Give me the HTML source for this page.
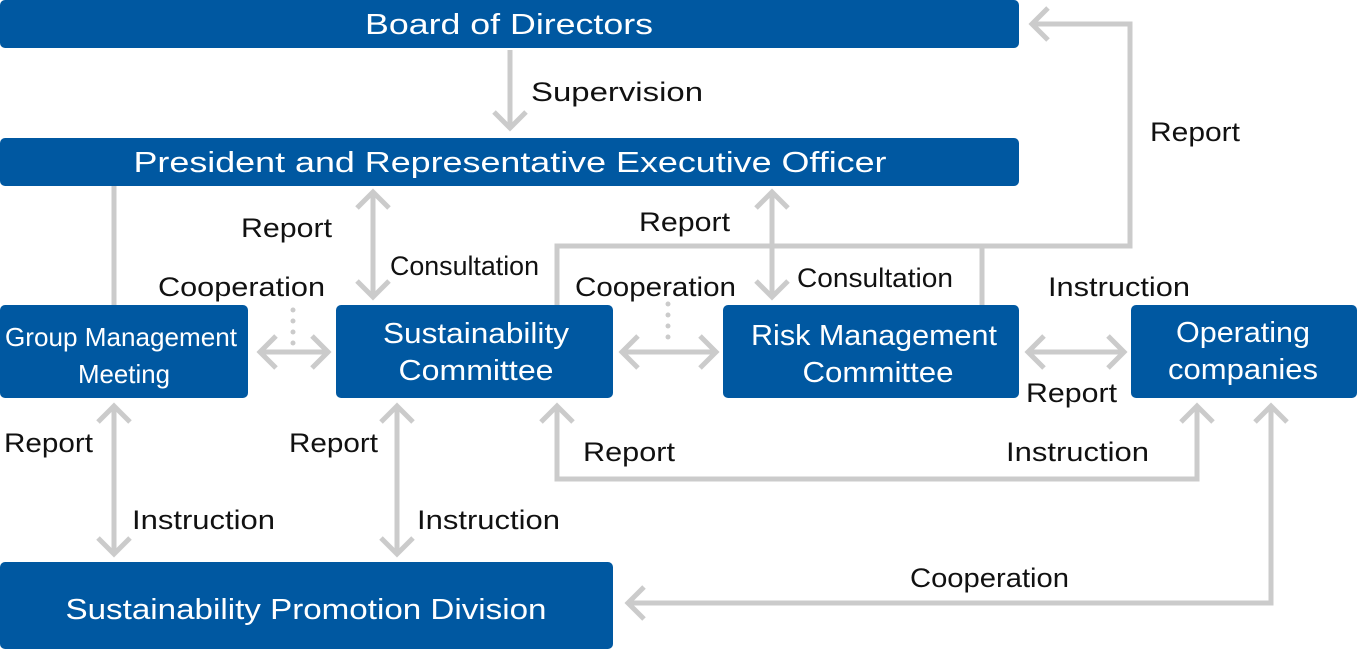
<!DOCTYPE html>
<html><head><meta charset="utf-8"><style>
html,body{margin:0;padding:0;background:#fff;}
svg{display:block;}
text{font-family:"Liberation Sans",Arial,sans-serif;}
.b{fill:#0058a1;}
.w{fill:#fff;text-anchor:middle;}
.k{fill:#111;font-size:27px;}
.l{fill:none;stroke:#cbcbcb;stroke-width:5;}
</style></head><body>
<svg width="1357" height="649" viewBox="0 0 1357 649" xmlns="http://www.w3.org/2000/svg">
<rect class="b" x="0" y="0" width="1019" height="48" rx="5"/>
<rect class="b" x="0" y="138" width="1019" height="48" rx="5"/>
<rect class="b" x="0" y="305" width="248" height="93" rx="5"/>
<rect class="b" x="336" y="305" width="277" height="93" rx="5"/>
<rect class="b" x="723" y="305" width="296" height="93" rx="5"/>
<rect class="b" x="1131" y="305" width="226" height="93" rx="5"/>
<rect class="b" x="0" y="562" width="613" height="87" rx="5"/>

<text class="w" x="509" y="34" font-size="29" textLength="288" lengthAdjust="spacingAndGlyphs">Board of Directors</text>
<text class="w" x="510" y="172" font-size="29" textLength="753" lengthAdjust="spacingAndGlyphs">President and Representative Executive Officer</text>
<text class="w" x="121" y="346" font-size="26" textLength="232" lengthAdjust="spacingAndGlyphs">Group Management</text>
<text class="w" x="124" y="383" font-size="26" textLength="92" lengthAdjust="spacingAndGlyphs">Meeting</text>
<text class="w" x="476" y="343" font-size="29" textLength="186" lengthAdjust="spacingAndGlyphs">Sustainability</text>
<text class="w" x="476" y="380" font-size="29" textLength="155" lengthAdjust="spacingAndGlyphs">Committee</text>
<text class="w" x="874" y="345" font-size="29" textLength="246" lengthAdjust="spacingAndGlyphs">Risk Management</text>
<text class="w" x="878" y="382" font-size="29" textLength="151" lengthAdjust="spacingAndGlyphs">Committee</text>
<text class="w" x="1243" y="342" font-size="29" textLength="134" lengthAdjust="spacingAndGlyphs">Operating</text>
<text class="w" x="1243" y="379" font-size="29" textLength="150" lengthAdjust="spacingAndGlyphs">companies</text>
<text class="w" x="306" y="619" font-size="29" textLength="481" lengthAdjust="spacingAndGlyphs">Sustainability Promotion Division</text>

<g class="l">
<path d="M510 50 V128 M494 112 L510 128 L526 112"/>
<path d="M557 305 V246 H1130 V24 H1032 M1048 8 L1032 24 L1048 40 M982 305 V246"/>
<path d="M114 186 V305"/>
<path d="M373 192 V297 M357 208 L373 192 L389 208 M357 281 L373 297 L389 281"/>
<path d="M772 192 V297 M756 208 L772 192 L788 208 M756 281 L772 297 L788 281"/>
<path d="M260 352 H328 M276 336 L260 352 L276 368 M312 336 L328 352 L312 368"/>
<path d="M622 352 H716 M638 336 L622 352 L638 368 M700 336 L716 352 L700 368"/>
<path d="M1028 352 H1124 M1044 336 L1028 352 L1044 368 M1108 336 L1124 352 L1108 368"/>
<path d="M114 406 V554 M98 422 L114 406 L130 422 M98 538 L114 554 L130 538"/>
<path d="M397 406 V554 M381 422 L397 406 L413 422 M381 538 L397 554 L413 538"/>
<path d="M557 406 V479 H1197 V406 M541 422 L557 406 L573 422 M1181 422 L1197 406 L1213 422"/>
<path d="M1271 406 V603 H628 M1255 422 L1271 406 L1287 422 M644 587 L628 603 L644 619"/>
</g>
<g fill="#cbcbcb">
<circle cx="293" cy="310" r="2.5"/><circle cx="293" cy="321" r="2.5"/><circle cx="293" cy="332" r="2.5"/><circle cx="293" cy="343" r="2.5"/>
<circle cx="668" cy="304" r="2.5"/><circle cx="668" cy="315" r="2.5"/><circle cx="668" cy="326" r="2.5"/><circle cx="668" cy="337" r="2.5"/>
</g>

<text class="k" x="531" y="101" textLength="172" lengthAdjust="spacingAndGlyphs">Supervision</text>
<text class="k" x="1150" y="141" textLength="90" lengthAdjust="spacingAndGlyphs">Report</text>
<text class="k" x="241" y="237" textLength="91" lengthAdjust="spacingAndGlyphs">Report</text>
<text class="k" x="639" y="231" textLength="91" lengthAdjust="spacingAndGlyphs">Report</text>
<text class="k" x="390" y="275" textLength="149" lengthAdjust="spacingAndGlyphs">Consultation</text>
<text class="k" x="797" y="287" textLength="156" lengthAdjust="spacingAndGlyphs">Consultation</text>
<text class="k" x="158" y="296" textLength="167" lengthAdjust="spacingAndGlyphs">Cooperation</text>
<text class="k" x="575" y="296" textLength="161" lengthAdjust="spacingAndGlyphs">Cooperation</text>
<text class="k" x="1048" y="296" textLength="142" lengthAdjust="spacingAndGlyphs">Instruction</text>
<text class="k" x="1026" y="402" textLength="91" lengthAdjust="spacingAndGlyphs">Report</text>
<text class="k" x="4" y="452" textLength="89" lengthAdjust="spacingAndGlyphs">Report</text>
<text class="k" x="289" y="452" textLength="89" lengthAdjust="spacingAndGlyphs">Report</text>
<text class="k" x="583" y="461" textLength="92" lengthAdjust="spacingAndGlyphs">Report</text>
<text class="k" x="1006" y="461" textLength="143" lengthAdjust="spacingAndGlyphs">Instruction</text>
<text class="k" x="132" y="529" textLength="143" lengthAdjust="spacingAndGlyphs">Instruction</text>
<text class="k" x="417" y="529" textLength="143" lengthAdjust="spacingAndGlyphs">Instruction</text>
<text class="k" x="910" y="587" textLength="159" lengthAdjust="spacingAndGlyphs">Cooperation</text>
</svg>
</body></html>
